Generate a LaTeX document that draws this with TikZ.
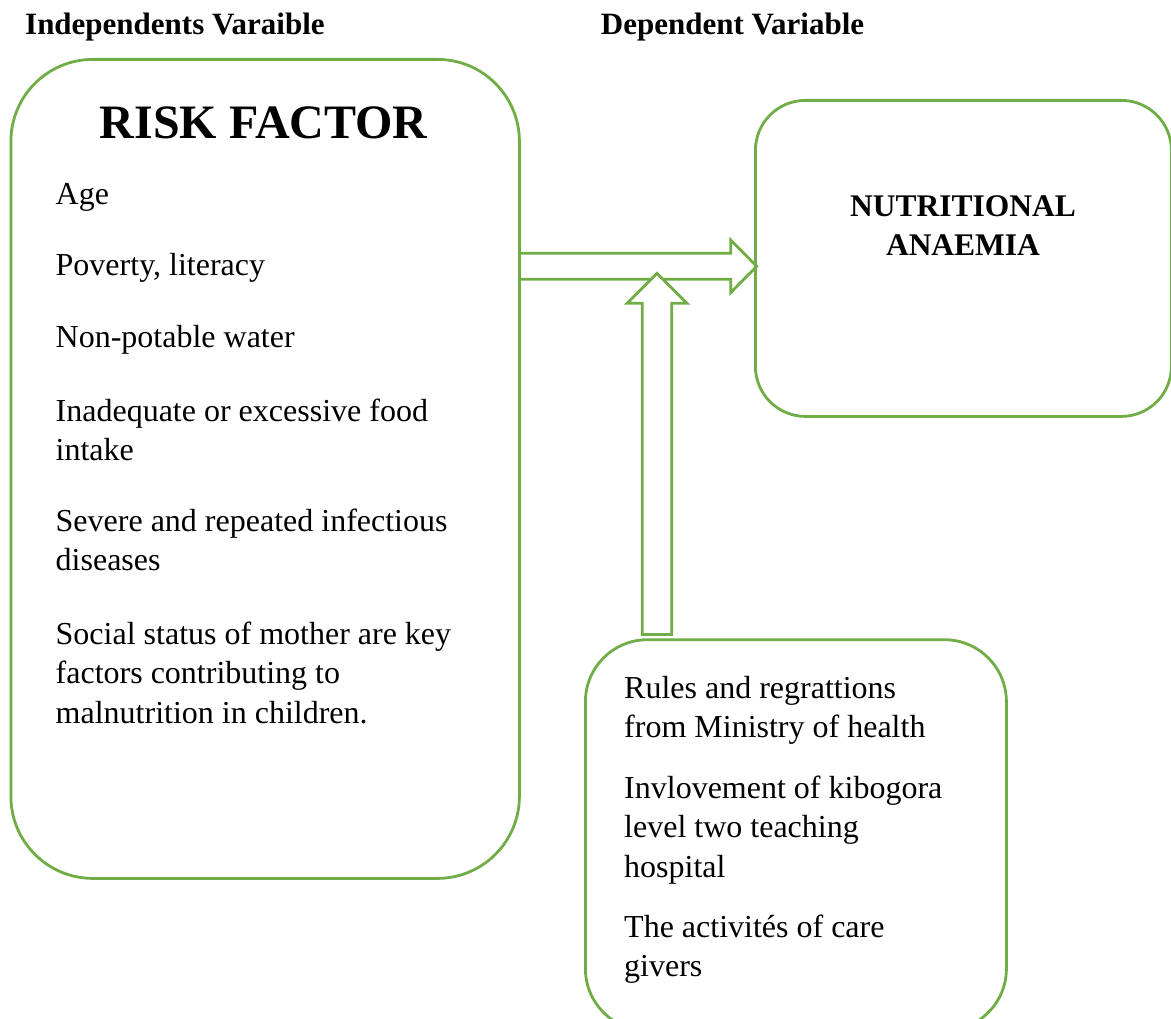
\documentclass[tikz,border=0pt]{standalone}
\usepackage{fontspec}
\setmainfont{Liberation Serif}
\usetikzlibrary{calc}
\definecolor{boxgreen}{HTML}{70AD47}
\tikzset{
  gbox/.style={draw=boxgreen, line width=2.8pt, fill=none, inner sep=0pt},
  body/.style={inner sep=0pt, anchor=base west, font=\fontsize{32}{39.5}\selectfont},
  head/.style={inner sep=0pt, anchor=base west, font=\fontsize{31}{37}\selectfont\bfseries},
  blockarrow/.style={draw=boxgreen, line width=2.8pt, line join=miter},
}
\begin{document}
\begin{tikzpicture}[x=1pt,y=-1pt]
\useasboundingbox (0,0) rectangle (1171,1019);
\clip (0,0) rectangle (1171,1019);

% headers
\node[head] (hind) at (25,35) {Independents Varaible};
\node[head] (hdep) at (600.7,35) {Dependent Variable};

% boxes
\node[gbox, rounded corners=82pt, minimum width=508.5pt, minimum height=819pt, anchor=north west] (risk) at (9.5,58) {};
\node[gbox, rounded corners=50pt, minimum width=416pt, minimum height=316pt, anchor=north west] (nut) at (754,99) {};
\node[gbox, rounded corners=62pt, minimum width=421pt, minimum height=391pt, anchor=north west] (rules) at (584,638.3) {};

% risk box text
\node[inner sep=0pt, anchor=base, font=\fontsize{48}{56}\selectfont\bfseries] (rtitle) at (263.75,138.5) {RISK FACTOR};
\node[body] (r1) at (55.5,205) {\parbox[t]{440pt}{\raggedright Age}};
\node[body] (r2) at (55.5,275.6) {\parbox[t]{440pt}{\raggedright Poverty, literacy}};
\node[body] (r3) at (55.5,348) {\parbox[t]{440pt}{\raggedright Non-potable water}};
\node[body] (r4) at (55.5,421) {\parbox[t]{440pt}{\raggedright Inadequate or excessive food\\intake}};
\node[body] (r5) at (55.5,531) {\parbox[t]{440pt}{\raggedright Severe and repeated infectious\\diseases}};
\node[body] (r6) at (55.5,644) {\parbox[t]{440pt}{\raggedright Social status of mother are key\\factors contributing to\\malnutrition in children.}};

% nutritional box text
\node[inner sep=0pt, anchor=base, font=\fontsize{31.5}{39}\selectfont\bfseries] (ntitle) at (963,217) {\parbox[t]{320pt}{\centering NUTRITIONAL\\ANAEMIA}};

% lower box text
\node[body] (l1) at (624,698) {\parbox[t]{360pt}{\raggedright Rules and regrattions\\from Ministry of health}};
\node[body] (l2) at (624,798) {\parbox[t]{360pt}{\raggedright Invlovement of kibogora\\level two teaching\\hospital}};
\node[body] (l3) at (624,937) {\parbox[t]{360pt}{\raggedright The activit\'es of care\\givers}};

% horizontal block arrow from risk box to nutritional box
\coordinate (hs) at (risk.east |- 0,266.3);
\coordinate (he) at ($(nut.west |- 0,266.3)+(2.7,0)$);
\draw[blockarrow] ($(hs)+(0,-13)$) -- ($(he)+(-26,-13)$) -- ($(he)+(-26,-26.3)$) -- (he)
  -- ($(he)+(-26,26.3)$) -- ($(he)+(-26,13)$) -- ($(hs)+(0,13)$);

% vertical block arrow from lower box upward
\coordinate (vs) at ($(rules.north west |- 0,634.5)+(73,0)$);
\coordinate (ve) at (vs |- 0,273.3);
\draw[blockarrow, fill=white] ($(vs)+(-14.7,0)$) -- ($(ve)+(-14.7,30)$) -- ($(ve)+(-30,30)$) -- (ve)
  -- ($(ve)+(30,30)$) -- ($(ve)+(14.7,30)$) -- ($(vs)+(14.7,0)$) -- cycle;
\end{tikzpicture}
\end{document}
